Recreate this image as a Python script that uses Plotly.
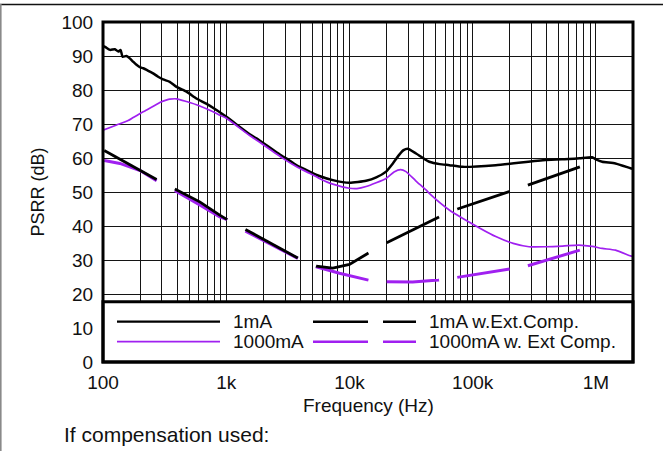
import numpy as np
import plotly.graph_objects as go

# ---------------- data (frequency in Hz, PSRR in dB) ----------------
f_1ma = [100, 104, 114, 125, 133, 139, 144, 155, 165, 176, 187, 199, 212, 226, 240,
         255, 280, 307, 348, 395, 476, 574, 694, 833, 1003, 1550, 1757, 2884, 3070,
         3700, 4745, 5700, 7330, 10000, 13650, 16500, 19820, 22500, 25400, 27500,
         29650, 34500, 41800, 44460, 54000, 64570, 82660, 154000, 391500, 604000,
         738000, 933000, 1000000, 1125000, 1440000, 1910000, 2000000]
psrr_1ma = [93.0, 92.7, 91.8, 92.0, 91.3, 91.8, 89.8, 90.0, 89.3, 88.3, 87.4, 86.7,
            86.4, 85.9, 85.4, 84.9, 83.9, 83.1, 82.4, 80.9, 79.5, 77.5, 75.9, 74.1,
            72.1, 67.0, 65.8, 60.4, 59.9, 57.9, 56.0, 54.7, 53.5, 52.7, 53.3, 54.3,
            56.0, 58.4, 61.0, 62.3, 62.7, 61.4, 59.4, 58.9, 58.2, 57.9, 57.4, 57.9,
            59.4, 59.7, 59.9, 60.2, 59.6, 58.9, 58.4, 57.0, 56.8]

f_1000ma = [100, 129, 160, 176, 212, 226, 280, 289, 330, 348, 395, 476, 610, 782, 886,
            1003, 1550, 1757, 2884, 3700, 4745, 5700, 7330, 10000, 11500, 13650,
            19820, 23000, 26000, 28770, 34500, 41800, 44460, 64570, 82660, 154000,
            213000, 286500, 391500, 537000, 728000, 933000, 1125000, 1440000,
            1910000, 2000000]
psrr_1000ma = [68.2, 69.7, 71.0, 71.9, 73.6, 74.1, 76.0, 76.3, 77.1, 77.3, 77.4, 76.6,
               75.3, 73.6, 72.6, 71.7, 66.6, 65.3, 59.9, 57.5, 55.5, 54.0, 52.3, 51.1,
               51.0, 51.6, 54.0, 55.9, 56.6, 56.0, 53.3, 50.6, 49.6, 44.7, 42.3, 36.9,
               34.9, 33.9, 33.9, 34.1, 34.4, 34.0, 33.4, 32.9, 31.2, 31.0]

f_1ma_comp = [100, 272, 397, 610, 886, 1028, 1430, 3845, 5375, 7330, 10000, 14170,
              20050, 44460, 52840, 75350, 197600, 274700, 741000]
psrr_1ma_comp = [62.4, 53.7, 50.6, 47.1, 43.2, 41.8, 39.0, 30.5, 28.2, 27.6, 28.7, 32.0,
                 35.1, 41.3, 42.6, 45.0, 50.1, 51.9, 57.4]

f_1000ma_comp = [100, 137, 200, 272, 397, 610, 886, 1028, 1430, 3845, 5375, 8300,
                 14170, 20050, 32570, 52840, 75350, 197600, 274700, 741000]
psrr_1000ma_comp = [59.3, 58.4, 56.3, 53.3, 50.1, 46.2, 42.7, 41.8, 38.5, 30.4, 28.0,
                    26.1, 24.1, 23.6, 23.5, 24.1, 24.9, 27.3, 28.2, 32.9]

decade_ticks = [100, 1000, 10000, 100000, 1000000]
decade_labels = ["100", "1k", "10k", "100k", "1M"]
y_ticks = list(range(0, 101, 10))

legend_names = ["1mA", "1mA w.Ext.Comp.", "1000mA", "1000mA w. Ext Comp."]

# ---------------- styling ----------------
BLACK = "#000000"
PURPLE = "#A020F0"
GRID = "#141414"
FONT = "Liberation Sans, Arial, sans-serif"
TXT = "#111111"

W, H = 663, 451
L, R, T, B = 103, 30, 22, 89
PW, PH = W - L - R, H - T - B
X_MIN, X_MAX = 2.0, np.log10(2e6)

# long-dash pattern measured along the log-frequency axis (decades)
DASH_PHASE, DASH_PERIOD, DASH_ON = 2.01, 0.573, 0.425


def px_x(px):
    return (px - L) / PW


def px_y(py):
    return (H - B - py) / PH


def dashed(freqs, vals):
    """Break a curve into long-dash pieces laid out along log10(f)."""
    lf = np.log10(np.asarray(freqs, float))
    v = np.asarray(vals, float)
    xs, ys = [], []
    k = int(np.floor((lf[0] - DASH_PHASE) / DASH_PERIOD))
    while DASH_PHASE + k * DASH_PERIOD < lf[-1]:
        s = DASH_PHASE + k * DASH_PERIOD
        a, b = max(s, lf[0]), min(s + DASH_ON, lf[-1])
        k += 1
        if b <= a:
            continue
        seg = np.concatenate([[a], lf[(lf > a) & (lf < b)], [b]])
        xs += list(10 ** seg) + [None]
        ys += list(np.interp(seg, lf, v)) + [None]
    return xs, ys


fig = go.Figure()

fig.add_trace(go.Scatter(x=f_1ma, y=psrr_1ma, mode="lines", name=legend_names[0],
                         line=dict(color=BLACK, width=2.5, shape="spline", smoothing=0.5)))
fig.add_trace(go.Scatter(x=f_1000ma, y=psrr_1000ma, mode="lines", name=legend_names[2],
                         line=dict(color=PURPLE, width=1.7, shape="spline", smoothing=0.6)))
dx, dy = dashed(f_1000ma_comp, psrr_1000ma_comp)
fig.add_trace(go.Scatter(x=dx, y=dy, mode="lines", name=legend_names[3],
                         line=dict(color=PURPLE, width=3)))
dx, dy = dashed(f_1ma_comp, psrr_1ma_comp)
fig.add_trace(go.Scatter(x=dx, y=dy, mode="lines", name=legend_names[1],
                         line=dict(color=BLACK, width=2.8)))

# grid at every 1..9 x decade
grid_vals = [m * 10 ** e for e in range(2, 7) for m in range(1, 10) if m * 10 ** e <= 2e6]
grid_text = [decade_labels[decade_ticks.index(v)] if v in decade_ticks else "" for v in grid_vals]

shapes = []
# legend panel (covers the lower part of the plot)
LEG_TOP = px_y(301.7)
shapes.append(dict(type="rect", xref="paper", yref="paper", x0=0, x1=1, y0=0, y1=LEG_TOP,
                   fillcolor="white", line=dict(color=BLACK, width=3), layer="above"))
# legend keys
key_rows = [321.7, 341.7]
key_specs = [
    (117, 220, key_rows[0], BLACK, 2.2, "solid"),
    (117, 220, key_rows[1], PURPLE, 1.7, "solid"),
    (313, 416, key_rows[0], BLACK, 2.4, "55px,15px"),
    (313, 416, key_rows[1], PURPLE, 2.6, "55px,15px"),
]
for x0, x1, yy, col, wd, ds in key_specs:
    shapes.append(dict(type="line", xref="paper", yref="paper", x0=px_x(x0), x1=px_x(x1),
                       y0=px_y(yy), y1=px_y(yy), line=dict(color=col, width=wd, dash=ds),
                       layer="above"))
# plot frame
shapes.append(dict(type="rect", xref="paper", yref="paper", x0=0, x1=1, y0=0, y1=1,
                   line=dict(color=BLACK, width=3), layer="above"))
# page border lines
shapes.append(dict(type="line", xref="paper", yref="paper", x0=px_x(0), x1=px_x(W),
                   y0=px_y(4.5), y1=px_y(4.5), line=dict(color="#111111", width=1.5)))
shapes.append(dict(type="line", xref="paper", yref="paper", x0=px_x(0.8), x1=px_x(0.8),
                   y0=px_y(4), y1=px_y(H), line=dict(color="#8a8a8a", width=1.6)))

annotations = []
for (name, xp, yp) in [(legend_names[0], 231, key_rows[0]),
                       (legend_names[2], 231, key_rows[1]),
                       (legend_names[1], 427, key_rows[0]),
                       (legend_names[3], 427, key_rows[1])]:
    annotations.append(dict(text=name, xref="paper", yref="paper", x=px_x(xp), y=px_y(yp),
                            xanchor="left", yanchor="middle", showarrow=False,
                            font=dict(family=FONT, size=19, color=TXT)))
annotations.append(dict(text="PSRR (dB)", xref="paper", yref="paper", x=px_x(37.5), y=0.5,
                        textangle=-90, xanchor="center", yanchor="middle", showarrow=False,
                        font=dict(family=FONT, size=18, color=TXT)))
annotations.append(dict(text="Frequency (Hz)", xref="paper", yref="paper", x=0.5,
                        y=px_y(405), xanchor="center", yanchor="middle", showarrow=False,
                        font=dict(family=FONT, size=19, color=TXT)))
annotations.append(dict(text="If compensation used:", xref="paper", yref="paper",
                        x=px_x(62), y=px_y(435), xanchor="left", yanchor="middle",
                        showarrow=False, font=dict(family=FONT, size=21, color=TXT)))

fig.update_layout(
    width=W, height=H, autosize=False,
    margin=dict(l=L, r=R, t=T, b=B, pad=0),
    paper_bgcolor="white", plot_bgcolor="white",
    showlegend=False,
    shapes=shapes, annotations=annotations,
    font=dict(family=FONT, size=18, color=TXT),
)
fig.update_xaxes(type="log", range=[X_MIN, X_MAX], tickvals=grid_vals, ticktext=grid_text,
                 showgrid=True, gridcolor=GRID, gridwidth=1.2, zeroline=False, showline=False,
                 ticks="outside", ticklen=3, tickcolor="rgba(0,0,0,0)",
                 tickfont=dict(family=FONT, size=19, color=TXT))
fig.update_yaxes(range=[0, 100], tickvals=y_ticks, showgrid=True, gridcolor=GRID,
                 gridwidth=1.2, zeroline=False, showline=False,
                 ticks="outside", ticklen=5, tickcolor="rgba(0,0,0,0)",
                 tickfont=dict(family=FONT, size=19, color=TXT))

fig.write_html("out.html")
